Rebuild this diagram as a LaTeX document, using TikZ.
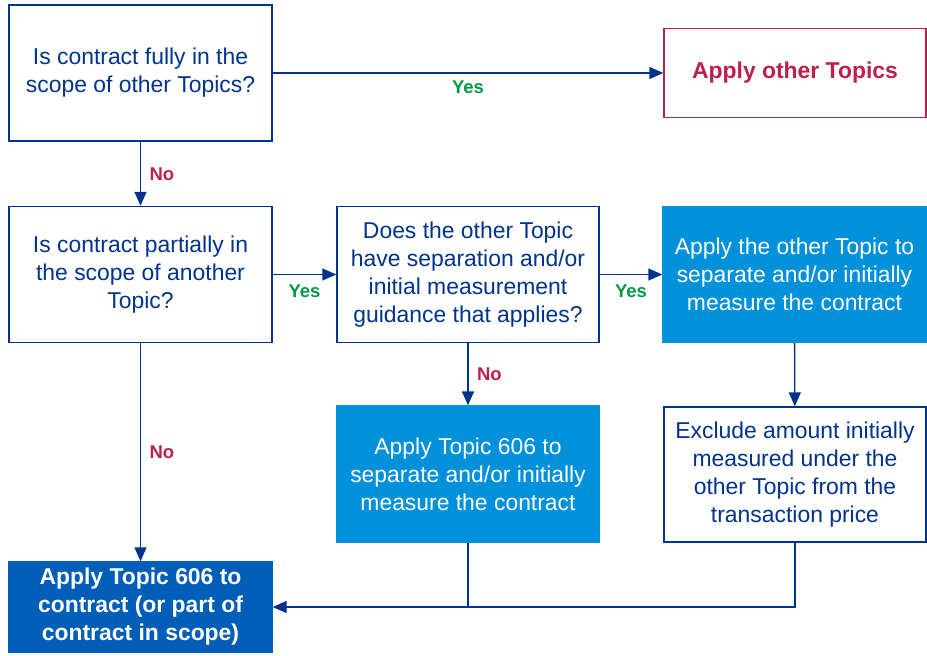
\documentclass[tikz,border=0pt]{standalone}
\usepackage{fontspec}
\setmainfont{Liberation Sans}
\usetikzlibrary{arrows.meta}
\definecolor{kdark}{HTML}{00338D}
\definecolor{kmid}{HTML}{005EB8}
\definecolor{klight}{HTML}{0091DA}
\definecolor{kred}{HTML}{BC204B}
\definecolor{kgreen}{HTML}{009A44}
\begin{document}
\begin{tikzpicture}[x=1pt,y=-1pt,
  every node/.style={font=\fontsize{22.9}{28}\selectfont},
  box/.style={draw=kdark,line width=1.4pt,fill=white,text=kdark,align=center,
    minimum width=263pt,minimum height=136pt,inner sep=0pt},
  redbox/.style={box,draw=kred,text=kred,font=\fontsize{22.9}{28}\selectfont\bfseries,minimum height=89pt},
  fillbox/.style={box,draw=klight,fill=klight,text=white},
  endbox/.style={box,draw=kmid,fill=kmid,text=white,font=\fontsize{22.9}{28}\selectfont\bfseries,minimum height=90pt},
  link/.style={draw=kdark,line width=1.4pt},
  arr/.style={link,-{Triangle[length=14pt,width=12pt]}},
  yes/.style={text=kgreen,font=\fontsize{18.5}{22}\selectfont\bfseries},
  no/.style={text=kred,font=\fontsize{18.5}{22}\selectfont\bfseries}]
\useasboundingbox (0,0) rectangle (927,656);

\node[box] (A) at (140.5,73) {Is contract fully in the\\scope of other Topics?};
\node[redbox,minimum width=262pt] (B) at (795,73) {Apply other Topics};
\node[box] (C) at (140.5,274.5) {Is contract partially in\\the scope of another\\Topic?};
\node[box,minimum width=262pt] (D) at (468,274.5) {Does the other Topic\\have separation and/or\\initial measurement\\guidance that applies?};
\node[fillbox] (E) at (794.5,274.5) {Apply the other Topic to\\separate and/or initially\\measure the contract};
\node[fillbox,minimum width=262pt] (F) at (468,474) {Apply Topic 606 to\\separate and/or initially\\measure the contract};
\node[box,minimum width=262pt,minimum height=135pt] (G) at (795,474.5) {Exclude amount initially\\measured under the\\other Topic from the\\transaction price};
\node[endbox] (H) at (140.5,607) {Apply Topic 606 to\\contract (or part of\\contract in scope)};

\draw[arr] (A) -- (B) node[yes,pos=0.5,below=4pt] (y1) {Yes};
\draw[arr] (A) -- (C) node[no,pos=0.5,right=5pt] (n1) {No};
\draw[arr] (C) -- (D) node[yes,pos=0.5,below=6pt] (y2) {Yes};
\draw[arr] (D) -- (E) node[yes,pos=0.5,below=6pt] (y3) {Yes};
\draw[arr] (D) -- (F) node[no,pos=0.5,right=5pt] (n2) {No};
\draw[arr] (E) -- (G);
\draw[arr] (C) -- (H) node[no,pos=0.5,right=5pt] (n3) {No};
\draw[arr] (F.south) |- (H.east);
\coordinate (J) at (F.south |- H.east);
\draw[link] (G.south) |- (J);
\end{tikzpicture}
\end{document}
